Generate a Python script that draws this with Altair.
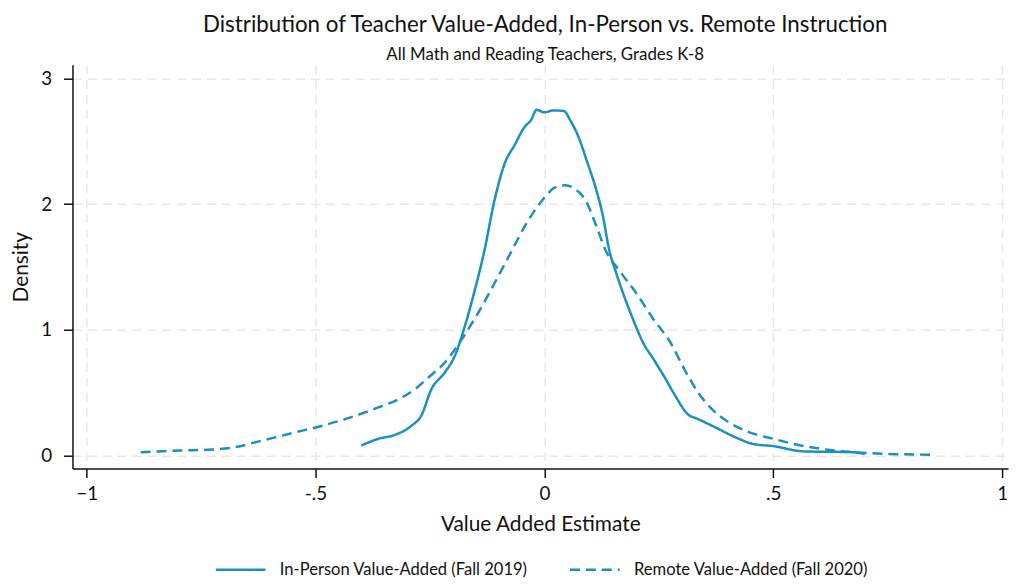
import altair as alt
import pandas as pd

# In-Person Value-Added (Fall 2019) — kernel density
inperson_x = [-0.40, -0.363, -0.327, -0.290, -0.269, -0.247, -0.218, -0.196, -0.174, -0.152,
              -0.131, -0.109, -0.087, -0.065, -0.044, -0.029, -0.017, 0.0, 0.019, 0.043,
              0.056, 0.075, 0.093, 0.112, 0.127, 0.142, 0.157, 0.172, 0.194, 0.216,
              0.239, 0.261, 0.284, 0.313, 0.336, 0.373, 0.425, 0.455, 0.50, 0.567,
              0.672, 0.70]
inperson_y = [0.079, 0.132, 0.163, 0.237, 0.316, 0.526, 0.658, 0.789, 1.026, 1.316,
              1.63, 2.03, 2.32, 2.47, 2.61, 2.67, 2.75, 2.73, 2.745, 2.74,
              2.67, 2.53, 2.34, 2.13, 1.92, 1.63, 1.45, 1.29, 1.08, 0.895,
              0.763, 0.632, 0.487, 0.329, 0.289, 0.224, 0.132, 0.092, 0.074, 0.032,
              0.026, 0.012]

# Remote Value-Added (Fall 2020)
remote_x = [-0.882, -0.798, -0.726, -0.675, -0.617, -0.544, -0.498, -0.435, -0.363, -0.319,
            -0.283, -0.254, -0.218, -0.181, -0.147, -0.109, -0.074, -0.037, 0.0, 0.022,
            0.045, 0.067, 0.090, 0.112, 0.134, 0.164, 0.201, 0.239, 0.276, 0.306,
            0.336, 0.366, 0.403, 0.448, 0.50, 0.560, 0.634, 0.709, 0.851]
remote_y = [0.026, 0.039, 0.047, 0.066, 0.118, 0.184, 0.224, 0.289, 0.382, 0.447,
            0.526, 0.618, 0.737, 0.921, 1.12, 1.37, 1.61, 1.86, 2.05, 2.13,
            2.15, 2.12, 2.03, 1.84, 1.63, 1.47, 1.29, 1.08, 0.895, 0.684,
            0.50, 0.368, 0.263, 0.184, 0.132, 0.079, 0.039, 0.018, 0.005]

series_names = ["In-Person Value-Added (Fall 2019)", "Remote Value-Added (Fall 2020)"]
x_ticks = [-1, -0.5, 0, 0.5, 1]
y_ticks = [0, 1, 2, 3]

rows = []
for i, (xv, yv) in enumerate(zip(inperson_x, inperson_y)):
    rows.append({"series": series_names[0], "x": xv, "y": yv, "o": i})
for i, (xv, yv) in enumerate(zip(remote_x, remote_y)):
    rows.append({"series": series_names[1], "x": xv, "y": yv, "o": i})
df = pd.DataFrame(rows)

FONT = "Lato"
BLUE = "#1a8fc0"

legend_cfg = dict(title=None, orient="none", direction="horizontal",
                  legendX=143, legendY=482,
                  symbolType="stroke", symbolSize=2500,
                  symbolStrokeWidth=2.5, labelFont=FONT,
                  labelFontSize=16.7, labelColor="#111", labelLimit=400,
                  labelOffset=13, columnPadding=37)

chart = alt.Chart(df).mark_line(strokeWidth=2.5, interpolate="monotone").encode(
    x=alt.X("x:Q",
            scale=alt.Scale(domain=[-1.031, 1.013], nice=False, zero=False),
            axis=alt.Axis(title="Value Added Estimate", values=x_ticks,
                          labelExpr="datum.value == -0.5 ? '-.5' : datum.value == 0.5 ? '.5' : format(datum.value, 'd')")),
    y=alt.Y("y:Q",
            scale=alt.Scale(domain=[-0.105, 3.108], nice=False, zero=False),
            axis=alt.Axis(title="Density", values=y_ticks, format="d")),
    color=alt.Color("series:N",
                    scale=alt.Scale(domain=series_names, range=[BLUE, BLUE]),
                    legend=alt.Legend(**legend_cfg)),
    strokeDash=alt.StrokeDash("series:N",
                              scale=alt.Scale(domain=series_names, range=[[1, 0], [10, 6]]),
                              legend=alt.Legend(**legend_cfg)),
    order="o:Q",
).properties(
    width=943,
    height=407,
    title=alt.TitleParams(
        text="Distribution of Teacher Value-Added, In-Person vs. Remote Instruction",
        subtitle="All Math and Reading Teachers, Grades K-8",
        font=FONT, fontSize=22.5, fontWeight="normal", color="#111",
        subtitleFont=FONT, subtitleFontSize=17, subtitleColor="#111",
        subtitlePadding=11, anchor="middle", offset=2, dx=5,
    ),
    autosize=alt.AutoSizeParams(type="none"),
    padding={"left": 65, "top": 55, "right": 5, "bottom": 112},
).configure_view(
    stroke=None
).configure_axis(
    labelFont=FONT, labelFontSize=19, labelColor="#111",
    titleFont=FONT, titleFontSize=21, titleFontWeight="normal", titleColor="#111",
    domainColor="#111", domainWidth=1.5,
    tickColor="#111", tickWidth=1.5, tickSize=9,
    grid=True, gridColor="#e8e8e8", gridDash=[9, 6], gridWidth=1.5,
).configure_axisX(
    labelPadding=7, titlePadding=10,
).configure_axisY(
    labelPadding=12, titlePadding=9,
)

chart.save("out.html", embed_options={"renderer": "svg", "actions": False})
